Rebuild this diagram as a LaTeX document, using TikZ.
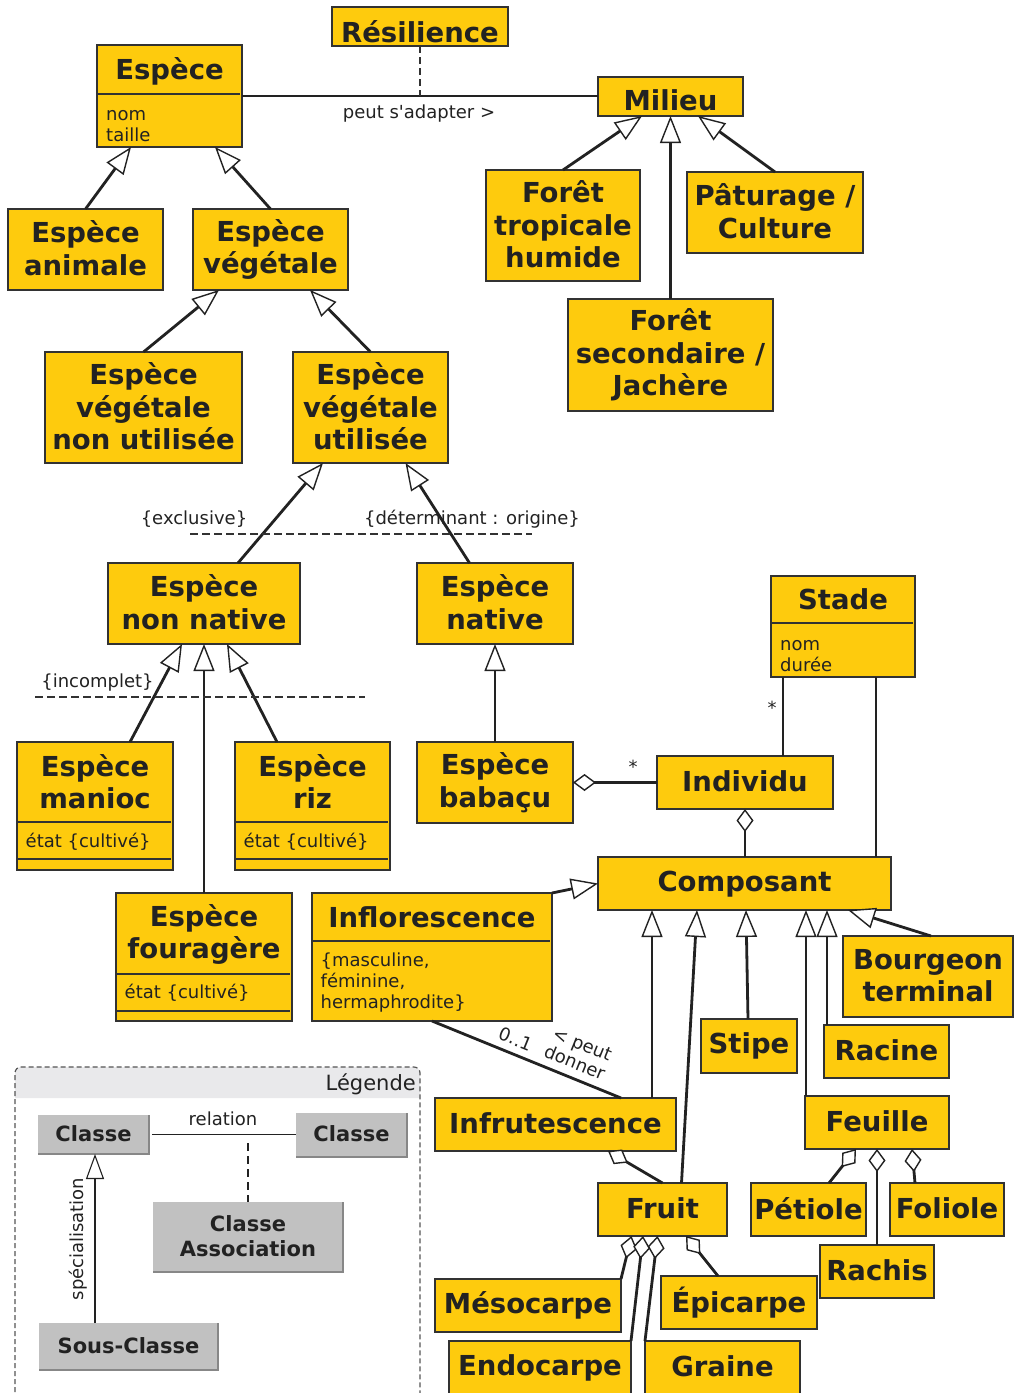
\documentclass[tikz,border=0pt]{standalone}
\usepackage{fontspec}
\setmainfont{DejaVu Sans}
\newfontfamily\djv{DejaVu Sans}
\usetikzlibrary{arrows.meta}
\definecolor{yfill}{RGB}{254,203,13}
\definecolor{bord}{RGB}{50,50,50}
\definecolor{ink}{RGB}{34,34,34}
\definecolor{lgfill}{RGB}{193,193,193}
\definecolor{lgedge}{RGB}{135,135,135}
\definecolor{lghead}{RGB}{233,233,235}
\definecolor{lgframe}{RGB}{85,85,85}
\newcommand\Ts{\rule[-0.1em]{0pt}{0.86em}}
\newcommand\ttlfont{\djv\bfseries\fontsize{27.5}{32.5}\selectfont}
\newcommand\attrfont{\djv\fontsize{18}{21}\selectfont}
\newcommand\lgfont{\djv\bfseries\fontsize{21}{25}\selectfont}
\newcommand\lgtfont{\djv\fontsize{21}{25}\selectfont}
\newcommand\cbox[7][]{\node[cls,#1,minimum width={#5-#3},minimum height={#6-#4}] (#2) at ({(#3+#5)/2},{(#4+#6)/2}) {#7};}
\tikzset{
  cls/.style={draw=bord,line width=1.4pt,fill=yfill,inner sep=0pt,outer sep=0pt,text=ink,font=\ttlfont,align=center},
  ttl/.style={inner sep=0pt,text=ink,font=\ttlfont,align=center},
  attr/.style={inner sep=0pt,text=ink,font=\attrfont,anchor=base west},
  lbl/.style={inner sep=0pt,text=ink,font=\attrfont,anchor=base},
  sepl/.style={draw=bord,line width=1.4pt},
  assoc/.style={draw=ink,line width=2.8pt},
  gen/.style={draw=ink,line width=2.8pt,arrows={-Triangle[length=27pt,width=21pt,fill=white,line width=1.4pt]}},
  agg/.style={draw=ink,line width=2.8pt,arrows={Diamond[length=23pt,width=17pt,fill=white,line width=1.4pt]-}},
  dsh/.style={draw=bord,line width=1.5pt,dash pattern=on 7pt off 4pt},
  lgbox/.style={fill=lgfill,inner sep=0pt,outer sep=0pt,text=ink,font=\lgfont,align=center},
  lgedgeline/.style={draw=lgedge,line width=1.6pt},
  lgline/.style={draw=ink,line width=1.2pt},
  lgdash/.style={draw=ink,line width=1.2pt,dash pattern=on 8pt off 5pt},
  lggen/.style={draw=ink,line width=1.2pt,arrows={-Triangle[length=25pt,width=18pt,fill=white,line width=1.1pt]}},
  lgframestyle/.style={draw=lgframe,line width=1.2pt,dash pattern=on 5pt off 3pt}
}
\begin{document}
\begin{tikzpicture}[x=1pt,y=-1pt]
\useasboundingbox (0,0) rectangle (1014,1393);
\clip (0,0) rectangle (1014,1393);
\fill[white] (0,0) rectangle (1014,1393);

% ---------- legend frame ----------
\fill[lghead] (15,1098) [rounded corners=6pt] -- (15,1067) -- (420,1067) [sharp corners] -- (420,1098) -- cycle;
\draw[lgframestyle] (15,1400) [rounded corners=6pt] -- (15,1067) -- (420,1067) [sharp corners] -- (420,1400);
\node[inner sep=0pt,text=ink,font=\lgtfont,anchor=base east] (lg-t) at (416,1090) {Légende};

% ---------- classes ----------
\cbox[text height=31pt,text depth=0pt]{resil}{332}{7}{508}{46}{Résilience}
\cbox{espece}{97}{45}{242}{147}{}
\node[ttl] (espece-t) at (169.5,71) {\Ts Espèce};
\draw[sepl] (97,94) -- (240,94);
\node[attr] (espece-a1) at (106,120) {nom};
\node[attr] (espece-a2) at (106,141) {taille};

\cbox[text height=27pt,text depth=0pt]{milieu}{598}{77}{743}{116}{Milieu}
\cbox{ftrop}{486}{170}{640}{281}{\Ts Forêt\\\Ts tropicale\\\Ts humide}
\cbox{patur}{687}{172}{863}{253}{\Ts Pâturage /\\\Ts Culture}
\cbox{fsec}{568}{299}{773}{411}{\Ts Forêt\\\Ts secondaire /\\\Ts Jachère}

\cbox{eanim}{8}{209}{163}{290}{\Ts Espèce\\\Ts animale}
\cbox{eveg}{193}{209}{348}{290}{\Ts Espèce\\\Ts végétale}
\cbox{enonut}{45}{352}{242}{463}{\Ts Espèce\\\Ts végétale\\\Ts non utilisée}
\cbox{eut}{293}{352}{448}{463}{\Ts Espèce\\\Ts végétale\\\Ts utilisée}
\cbox{enonnat}{108}{563}{300}{644}{\Ts Espèce\\\Ts non native}
\cbox{enat}{417}{563}{573}{644}{\Ts Espèce\\\Ts native}

\cbox{manioc}{17}{742}{173}{870}{}
\node[ttl] (manioc-t) at (95,783) {\Ts Espèce\\\Ts manioc};
\draw[sepl] (17,822) -- (171,822);
\draw[sepl] (17,859) -- (171,859);
\node[attr] (manioc-a) at (25.5,847) {état \{cultivé\}};

\cbox{riz}{235}{742}{390}{870}{}
\node[ttl] (riz-t) at (312.5,783) {\Ts Espèce\\\Ts riz};
\draw[sepl] (235,822) -- (388,822);
\draw[sepl] (235,859) -- (388,859);
\node[attr] (riz-a) at (243.5,847) {état \{cultivé\}};

\cbox{babacu}{417}{742}{573}{823}{\Ts Espèce\\\Ts babaçu}

\cbox{fourag}{116}{893}{292}{1021}{}
\node[ttl] (fourag-t) at (204,934.5) {\Ts Espèce\\\Ts fouragère};
\draw[sepl] (116,974) -- (290,974);
\draw[sepl] (116,1011) -- (290,1011);
\node[attr] (fourag-a) at (124.5,998) {état \{cultivé\}};

\cbox{inflor}{312}{893}{552}{1021}{}
\node[ttl] (inflor-t) at (432,918) {\Ts Inflorescence};
\draw[sepl] (312,941) -- (550,941);
\node[attr] (inflor-a1) at (320.5,966) {\{masculine,};
\node[attr] (inflor-a2) at (320.5,987) {féminine,};
\node[attr] (inflor-a3) at (320.5,1008) {hermaphrodite\}};

\cbox{stade}{771}{576}{915}{677}{}
\node[ttl] (stade-t) at (843,600.5) {\Ts Stade};
\draw[sepl] (771,623) -- (913,623);
\node[attr] (stade-a1) at (780,650) {nom};
\node[attr] (stade-a2) at (780,671) {durée};

\cbox{indiv}{657}{756}{833}{809}{\Ts Individu}
\cbox{compo}{598}{857}{891}{910}{\Ts Composant}
\cbox{bourg}{843}{936}{1013}{1017}{\Ts Bourgeon\\\Ts terminal}
\cbox{stipe}{701}{1019}{797}{1073}{\Ts Stipe}
\cbox{racine}{824}{1025}{949}{1078}{\Ts Racine}
\cbox{feuille}{805}{1096}{949}{1149}{\Ts Feuille}
\cbox{infrut}{435}{1098}{676}{1151}{\Ts Infrutescence}
\cbox{fruit}{598}{1183}{727}{1236}{\Ts Fruit}
\cbox{petiole}{751}{1183}{866}{1236}{\Ts Pétiole}
\cbox{foliole}{890}{1183}{1004}{1236}{\Ts Foliole}
\cbox{rachis}{820}{1245}{934}{1298}{\Ts Rachis}
\cbox{meso}{435}{1279}{621}{1332}{\Ts Mésocarpe}
\cbox{epi}{661}{1276}{817}{1329}{\Ts Épicarpe}
\cbox{endo}{449}{1341}{631}{1394}{\Ts Endocarpe}
\cbox{graine}{645}{1341}{800}{1394}{\Ts Graine}

% ---------- association Espèce - Milieu ----------
\draw[assoc] (espece.east) -- (espece.east -| milieu.west);
\coordinate (asc) at (resil.south |- espece.east);
\draw[dsh] (resil.south) -- (asc);
\node[lbl] (asc-l) at (419,118.5) {peut s'adapter >};

% ---------- generalisations ----------
\draw[gen] (eanim.north) -- ([xshift=-38.5pt]espece.south);
\draw[gen] (eveg.north) -- ([xshift=45.5pt]espece.south);
\draw[gen] (ftrop.north) -- ([xshift=-28.5pt]milieu.south);
\draw[gen] (fsec.north) -- (milieu.south);
\draw[gen] (patur.north) -- ([xshift=27.5pt]milieu.south);
\draw[gen] (enonut.north) -- ([xshift=-51.5pt]eveg.south);
\draw[gen] (eut.north) -- ([xshift=39.5pt]eveg.south);
\draw[gen] ([xshift=34pt]enonnat.north) -- ([xshift=-47.5pt]eut.south);
\draw[gen] ([xshift=-25.5pt]enat.north) -- ([xshift=35pt]eut.south);
\draw[gen] ([xshift=35pt]manioc.north) -- ([xshift=-22pt]enonnat.south);
\draw[gen] (fourag.north) -- (enonnat.south);
\draw[gen] ([xshift=-35.5pt]riz.north) -- ([xshift=23pt]enonnat.south);
\draw[gen] (babacu.north) -- (enat.south);
\draw[gen] (inflor.north east) -- (compo.west);
\draw[gen] ([xshift=96.5pt]infrut.north) -- ([xshift=-92.5pt]compo.south);
\draw[gen] ([xshift=19pt]fruit.north) -- ([xshift=-47.5pt]compo.south);
\draw[gen] ([xshift=-1pt]stipe.north) -- ([xshift=1.5pt]compo.south);
\draw[gen] ([xshift=-71pt]feuille.north) -- ([xshift=61.5pt]compo.south);
\draw[gen] ([xshift=-59.5pt]racine.north) -- ([xshift=82.5pt]compo.south);
\draw[gen] ([xshift=3pt]bourg.north) -- ([xshift=103.5pt]compo.south);

% ---------- constraints ----------
\coordinate (ex-a) at (190,534);
\coordinate (ex-b) at (532,534);
\draw[dsh,dash pattern=on 8pt off 4pt] (ex-a) -- (ex-b);
\node[lbl] (c-excl) at (194,524) {\{exclusive\}};
\node[lbl] (c-det) at (472,524) {\{déterminant : origine\}};
\coordinate (in-a) at (35,697);
\coordinate (in-b) at (365,697);
\draw[dsh,dash pattern=on 8pt off 4pt] (in-a) -- (in-b);
\node[lbl] (c-inc) at (97.5,687) {\{incomplet\}};

% ---------- associations / aggregations ----------
\draw[assoc] ([xshift=-60pt]stade.south) -- ([xshift=38pt]indiv.north);
\node[lbl] (st-m) at (772,714) {*};
\draw[assoc] ([xshift=33pt]stade.south) -- ([xshift=131.5pt]compo.north);
\draw[agg] (babacu.east) -- (indiv.west);
\node[lbl] (bi-m) at (633,773) {*};
\draw[agg] (indiv.south) -- (indiv.south |- compo.north);
\draw[assoc] (inflor.south) -- ([xshift=65.5pt]infrut.north);
\node[lbl,rotate=-22] (if-m) at (513,1045) {0..1};
\node[inner sep=0pt,text=ink,font=\djv\fontsize{18}{20}\selectfont,align=center,rotate=-22] (if-l) at (578.5,1053.5) {< peut\\donner};
\draw[agg] ([xshift=52.5pt]infrut.south) -- (fruit.north);
\draw[agg] ([xshift=-31pt]fruit.south) -- (meso.north east);
\draw[agg] ([xshift=-19.5pt]fruit.south) -- (endo.north east);
\draw[agg] ([xshift=-5pt]fruit.south) -- (graine.north west);
\draw[agg] ([xshift=23.5pt]fruit.south) -- ([xshift=-21pt]epi.north);
\draw[agg] ([xshift=-21pt]feuille.south) -- ([xshift=20.5pt]petiole.north);
\draw[agg] (feuille.south) -- (feuille.south |- rachis.north);
\draw[agg] ([xshift=35pt]feuille.south) -- ([xshift=-32pt]foliole.north);

% ---------- legend content ----------
\node[lgbox,minimum width=111pt,minimum height=39pt] (lc1) at (93.5,1134.5) {\Ts Classe};
\draw[lgedgeline] (lc1.north east) -- (lc1.south east) -- (lc1.south west);
\node[lgbox,minimum width=111pt,minimum height=44pt] (lc2) at (351.5,1135) {\Ts Classe};
\draw[lgedgeline] (lc2.north east) -- (lc2.south east) -- (lc2.south west);
\node[lgbox,minimum width=190pt,minimum height=70pt] (lca) at (248,1237) {\Ts Classe\\\Ts Association};
\draw[lgedgeline] (lca.north east) -- (lca.south east) -- (lca.south west);
\node[lgbox,minimum width=179pt,minimum height=47pt] (ls) at (128.5,1346.5) {\Ts Sous-Classe};
\draw[lgedgeline] (ls.north east) -- (ls.south east) -- (ls.south west);
\draw[lgline] ([xshift=3pt]lc1.east) -- (lc1.east -| lc2.west);
\node[lbl] (lg-rel) at (223,1125) {relation};
\coordinate (lg-rc) at (248,1143);
\draw[lgdash] (lg-rc) -- (lca.north);
\draw[lggen] ([xshift=-33.5pt]ls.north) -- ([xshift=1.5pt]lc1.south);
\node[lbl,rotate=90] (lg-spec) at (83.5,1239) {spécialisation};
\end{tikzpicture}
\end{document}
